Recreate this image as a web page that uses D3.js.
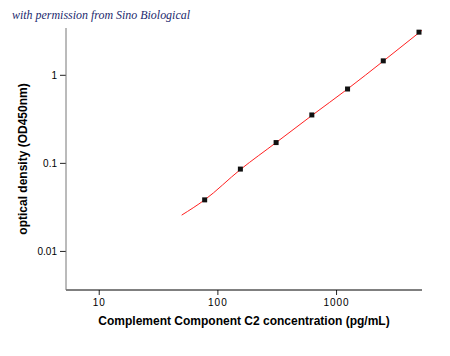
<!DOCTYPE html>
<html><head><meta charset="utf-8">
<script src="https://cdn.jsdelivr.net/npm/d3@7"></script>
<style>body{margin:0;background:#fff}svg{display:block}</style>
</head><body>
<script>
const conc = [78.125, 156.25, 312.5, 625, 1250, 2500, 5000];
const od = [0.038, 0.085, 0.17, 0.35, 0.69, 1.44, 3.05];
const fitConc = [50, 78.125, 156.25, 312.5, 625, 1250, 2500, 5300];
const fitOD = [0.0255, 0.038, 0.084, 0.17, 0.345, 0.69, 1.43, 3.2];
const xMajor = [10, 100, 1000];
const xMajorLabels = ["10", "100", "1000"];
const yMajor = [0.01, 0.1, 1];
const yMajorLabels = ["0.01", "0.1", "1"];
const xDomain = [5.3, 5300];
const yDomain = [0.0036, 3.4];

const W = 450, H = 356;
const L = 66, R = 422, T = 28, B = 290;
const svg = d3.select("body").append("svg").attr("width", W).attr("height", H);
const x = d3.scaleLog().domain(xDomain).range([L, R]);
const y = d3.scaleLog().domain(yDomain).range([B, T]);

function minors(dom) {
  const out = [];
  for (let e = -4; e <= 4; e++) for (let m = 1; m <= 9; m++) {
    const v = m * Math.pow(10, e);
    if (v >= dom[0] && v <= dom[1]) out.push(v);
  }
  return out;
}
const font = "Liberation Sans, Arial, sans-serif";

// title
svg.append("text").attr("x", 12).attr("y", 19)
  .attr("font-family", "Liberation Serif, serif").attr("font-style", "italic")
  .attr("font-size", 12).attr("fill", "#1c2a6e")
  .attr("textLength", 178).attr("lengthAdjust", "spacingAndGlyphs")
  .text("with permission from Sino Biological");

// x axis
const gx = svg.append("g").attr("transform", `translate(0,${B})`);
gx.call(d3.axisBottom(x).tickValues(minors(xDomain)).tickSize(3).tickFormat(""))
  .call(g => g.select(".domain").remove());
gx.call(d3.axisBottom(x).tickValues(xMajor).tickSize(5).tickFormat((d, i) => xMajorLabels[i]).tickPadding(4))
  .call(g => g.select(".domain").remove());
gx.append("line").attr("x1", L).attr("x2", R).attr("stroke", "#000");
gx.selectAll("text").attr("font-family", font).attr("font-size", 10).attr("fill", "#000").attr("letter-spacing", 1);

// y axis
const gy = svg.append("g").attr("transform", `translate(${L},0)`);
gy.call(d3.axisLeft(y).tickValues(minors(yDomain)).tickSize(3).tickFormat(""))
  .call(g => g.select(".domain").remove());
gy.call(d3.axisLeft(y).tickValues(yMajor).tickSize(6).tickFormat((d, i) => yMajorLabels[i]).tickPadding(3))
  .call(g => g.select(".domain").remove());
gy.append("line").attr("y1", T).attr("y2", B).attr("stroke", "#777");
gy.selectAll("text").attr("font-family", font).attr("font-size", 10).attr("fill", "#000");
svg.selectAll(".tick line").attr("stroke", "#222");

// axis labels
svg.append("text").attr("transform", `translate(27,159) rotate(-90)`)
  .attr("text-anchor", "middle").attr("font-family", font).attr("font-weight", "bold")
  .attr("font-size", 12).text("optical density (OD450nm)");
svg.append("text").attr("x", (L + R) / 2).attr("y", 325)
  .attr("text-anchor", "middle").attr("font-family", font).attr("font-weight", "bold")
  .attr("font-size", 12).text("Complement Component C2 concentration (pg/mL)");

// fit line
const fit = fitConc.map((c, i) => [c, fitOD[i]]);
svg.append("path").datum(fit)
  .attr("d", d3.line().x(d => x(d[0])).y(d => y(d[1])).curve(d3.curveMonotoneX))
  .attr("fill", "none").attr("stroke", "#ff2020").attr("stroke-width", 1);

// points
svg.selectAll("rect.pt").data(conc.map((c, i) => [c, od[i]])).enter().append("rect")
  .attr("class", "pt")
  .attr("x", d => x(d[0]) - 2.5).attr("y", d => y(d[1]) - 2.5)
  .attr("width", 5).attr("height", 5).attr("fill", "#111");
</script>
</body></html>
